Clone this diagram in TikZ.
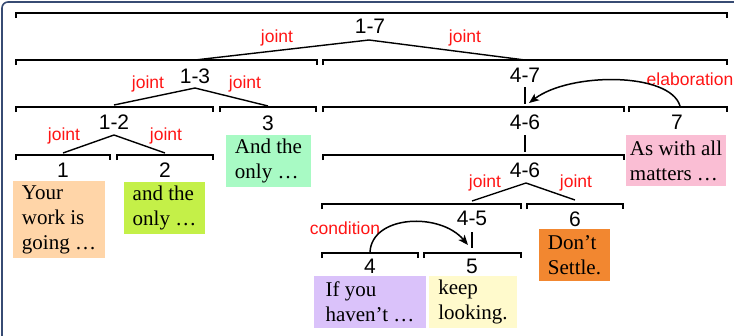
\documentclass[tikz,border=0pt]{standalone}
\usepackage{fontspec}
\setmainfont{Liberation Serif}
\setsansfont{Liberation Sans}
\usetikzlibrary{arrows.meta}
\definecolor{frameblue}{RGB}{55,75,115}
\definecolor{relred}{RGB}{255,20,20}
\definecolor{cpeach}{RGB}{255,213,168}
\definecolor{clime}{RGB}{196,240,72}
\definecolor{cmint}{RGB}{168,250,196}
\definecolor{cpink}{RGB}{250,190,212}
\definecolor{clav}{RGB}{218,194,250}
\definecolor{ccream}{RGB}{255,250,204}
\definecolor{corange}{RGB}{242,135,48}
\begin{document}
\begin{tikzpicture}[x=1pt,y=-1pt,
  bracketnode/.style={minimum height=5pt, inner sep=0pt, outer sep=0pt, anchor=north},
  barline/.style={line width=2.4pt},
  spanlabel/.style={font=\sffamily\fontsize{21}{21}\selectfont, inner sep=0pt},
  rellabel/.style={font=\sffamily\fontsize{17.5}{17.5}\selectfont, text=relred, inner sep=0pt},
  relline/.style={line width=1.4pt},
  stubline/.style={line width=2pt},
  relarrow/.style={line width=1.5pt, -{Stealth[length=10pt,width=8pt,inset=2.5pt]}},
  edubox/.style={font=\fontsize{21}{25}\selectfont, align=left, inner sep=0pt}]
\useasboundingbox (0,0) rectangle (734,335);
\clip (0,0) rectangle (734,335);
\draw[frameblue, line width=1.6pt, rounded corners=6pt] (2,2) rectangle (770,370);

% brackets (spans)
\node[bracketnode, minimum width=711pt] (b17) at (371.5,13) {};
\node[bracketnode, minimum width=301pt] (b13) at (166.5,60) {};
\node[bracketnode, minimum width=404pt] (b47) at (525,60) {};
\node[bracketnode, minimum width=197pt] (b12) at (114.5,107) {};
\node[bracketnode, minimum width=96pt] (b3) at (268,107) {};
\node[bracketnode, minimum width=301pt] (b46a) at (473.5,107) {};
\node[bracketnode, minimum width=98pt] (b7) at (678,107) {};
\node[bracketnode, minimum width=94pt] (b1) at (63,155) {};
\node[bracketnode, minimum width=96pt] (b2) at (165,155) {};
\node[bracketnode, minimum width=301pt] (b46b) at (473.5,155) {};
\node[bracketnode, minimum width=199pt] (b45) at (421.5,204) {};
\node[bracketnode, minimum width=96pt] (b6) at (575,204) {};
\node[bracketnode, minimum width=96pt] (b4) at (370,253) {};
\node[bracketnode, minimum width=97pt] (b5) at (472.5,253) {};
\foreach \b in {b17,b13,b47,b12,b3,b46a,b7,b1,b2,b46b,b45,b6,b4,b5}
  \draw[barline] (\b.south west) -- (\b.north west) -- (\b.north east) -- (\b.south east);

% span labels
\node[spanlabel] (l17) at (370,26) {1-7};
\node[spanlabel] (l13) at (195,76) {1-3};
\node[spanlabel] (l47) at (525,75) {4-7};
\node[spanlabel] (l12) at (114,122) {1-2};
\node[spanlabel] (l3) at (268,123) {3};
\node[spanlabel] (l46a) at (525,122) {4-6};
\node[spanlabel] (l7) at (677,122) {7};
\node[spanlabel] (l1) at (63,170) {1};
\node[spanlabel] (l2) at (165,170) {2};
\node[spanlabel] (l46b) at (525,170) {4-6};
\node[spanlabel] (l45) at (472,218) {4-5};
\node[spanlabel] (l6) at (575,219) {6};
\node[spanlabel] (l4) at (370,266) {4};
\node[spanlabel] (l5) at (472,266) {5};

% apexes
\coordinate (a17) at (369,40);
\coordinate (a13) at (195,88);
\coordinate (a12) at (114,135);
\coordinate (a46) at (526,183);

% joint lines
\draw[relline] (l13 |- b13.north) -- (a17) -- (l47 |- b47.north);
\draw[relline] (l12 |- 0,105) -- (a13) -- (l3 |- 0,106);
\draw[relline] (l1 |- 0,153) -- (a12) -- (l2 |- 0,153);
\draw[relline] (l45 |- 0,201) -- (a46) -- (l6 |- 0,200);

% relation labels
\node[rellabel] (j1) at (277,38) {joint};
\node[rellabel] (j2) at (465,38) {joint};
\node[rellabel] (j3) at (148,84) {joint};
\node[rellabel] (j4) at (245,84) {joint};
\node[rellabel] (j5) at (64,136) {joint};
\node[rellabel] (j6) at (166,136) {joint};
\node[rellabel] (j7) at (485,183) {joint};
\node[rellabel] (j8) at (576,183) {joint};
\node[rellabel] (rel) at (690,79) {elaboration};
\node[rellabel] (rcon) at (345,228.5) {condition};

% stubs (nucleus marks)
\draw[stubline] (l47 |- 0,87) -- (l47 |- 0,104);
\draw[stubline] (l46a |- 0,135) -- (l46a |- 0,152);
\draw[stubline] (l45 |- 0,232) -- (l45 |- 0,248);

% relation arrows
\coordinate (e0) at (680,106);
\coordinate (e1) at (529,103);
\draw[relarrow] (e0) .. controls (670,72) and (570,72) .. (e1);
\coordinate (c0) at (370,252);
\coordinate (c1) at (468,245);
\draw[relarrow] (c0) .. controls (372,215) and (440,212) .. (c1);

% EDU boxes
\node[edubox, fill=cpeach, minimum width=92pt, minimum height=77pt] (u1) at (59,219.5) {Your\\work is\\going …};
\node[edubox, fill=clime, minimum width=81pt, minimum height=52pt] (u2) at (164.5,208) {and the\\only …};
\node[edubox, fill=cmint, minimum width=85pt, minimum height=52pt] (u3) at (268.5,161) {And the\\only …};
\node[edubox, fill=cpink, minimum width=100pt, minimum height=51pt] (u7) at (676,160.5) {As with all\\matters …};
\node[edubox, fill=clav, minimum width=112pt, minimum height=52pt] (u4) at (370,302) {If you\\haven’t …};
\node[edubox, fill=ccream, minimum width=88pt, minimum height=52pt] (u5) at (473,302) {keep\\looking.};
\node[edubox, fill=corange, minimum width=71pt, minimum height=52pt] (u6) at (574.5,255) {Don’t\\Settle.};
\end{tikzpicture}
\end{document}
